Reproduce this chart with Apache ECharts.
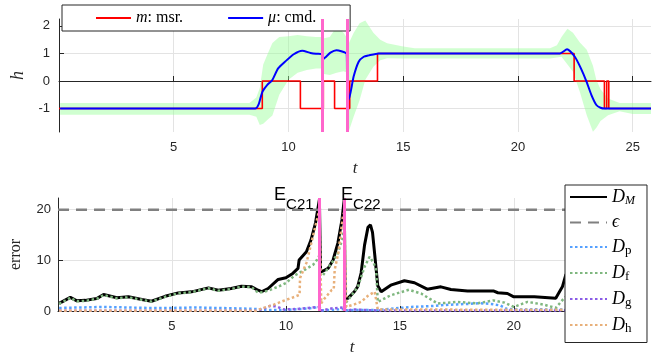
<!DOCTYPE html>
<html>
<head>
<meta charset="utf-8">
<script src="https://cdn.jsdelivr.net/npm/echarts@6/dist/echarts.min.js"></script>
<style>
  html, body { margin: 0; padding: 0; background: #fff; }
  #chart { width: 665px; height: 358px; }
</style>
</head>
<body>
<div id="chart"></div>
<script>
// ===== top panel: h vs t =====
// measured state m (step function, value holds until next time)
const msrT = [0, 8.86, 10.52, 11.52, 12.01, 12.67, 13.88, 22.45, 23.77, 23.87, 23.96, 25.8]
const msrV = [-1, 0, -1, 0, -1, 0, 1, 0, -1, 0, -1, -1]

// commanded mu
const cmdT = [0.05, 8.55, 8.7, 8.86, 9.07, 9.29, 9.55, 9.85, 10.23, 10.6, 10.96, 11.2, 11.46, 11.48, 11.6, 11.83, 12.09, 12.3, 12.54, 12.56, 12.62, 12.84, 13.06, 13.28, 13.5, 13.93, 21.83, 22.14, 22.48, 22.75, 22.99, 23.2, 23.42, 23.6, 23.78, 25.8]
const cmdV = [-1, -1, -0.85, -0.4, -0.15, 0.03, 0.46, 0.7, 0.97, 1.1, 1.02, 0.99, 0.98, 0.78, 0.85, 1.03, 1.12, 1.08, 0.98, -0.6, -0.69, 0.16, 0.7, 0.88, 0.93, 1.0, 1.0, 1.15, 0.88, 0.45, -0.02, -0.5, -0.87, -0.97, -1.0, -1.0]

// green uncertainty band around mu
const bandT = [0.05, 8.3, 8.6, 8.75, 8.9, 9.1, 9.3, 9.6, 10.0, 10.4, 10.8, 11.2, 11.47, 11.55, 11.8, 12.1, 12.4, 12.56, 12.62, 12.84, 13.1, 13.35, 13.7, 14.0, 14.3, 15.0, 15.5, 21.4, 21.7, 21.9, 22.16, 22.4, 22.7, 23.0, 23.27, 23.42, 23.6, 23.93, 24.43, 25.0, 25.8]
const bandLo = [-1.22, -1.22, -1.3, -1.6, -1.55, -1.4, -1.25, -0.5, 0.05, 0.3, 0.4, 0.45, 0.45, 0.25, 0.22, 0.3, 0.35, 0.3, -1.85, -1.3, -0.7, 0.05, 0.52, 0.75, 0.83, 0.82, 0.82, 0.82, 0.85, 0.88, 0.6, 0.34, -0.4, -1.24, -1.84, -1.7, -1.45, -1.24, -1.1, -1.2, -1.2]
const bandHi = [-0.8, -0.8, -0.6, -0.25, 0.6, 1.0, 1.38, 1.6, 1.62, 1.67, 1.62, 1.6, 1.6, 1.55, 1.6, 1.97, 1.75, 1.55, 1.35, 1.74, 2.1, 2.2, 1.75, 1.5, 1.37, 1.25, 1.19, 1.19, 1.3, 1.6, 1.9, 1.75, 1.4, 1.13, 0.55, 0.04, -0.3, -0.63, -0.8, -0.8, -0.8]

// event times (pink lines), same in both panels
const eventT = [11.47, 12.55]

// ===== bottom panel: error vs t =====
const dmT = [0.05, 0.54, 0.83, 1.2, 1.7, 2.0, 2.58, 3.09, 3.68, 4.1, 4.7, 5.28, 5.86, 6.6, 7.03, 7.6, 8.05, 8.5, 8.78, 8.93, 9.22, 9.66, 10.0, 10.3, 10.53, 10.58, 10.9, 11.1, 11.3, 11.47, 11.52, 11.63, 11.85, 12.07, 12.28, 12.46, 12.56, 12.6, 12.72, 13.0, 13.15, 13.3, 13.45, 13.6, 13.71, 13.8, 13.9, 14.03, 14.18, 14.6, 15.2, 15.64, 16.2, 16.8, 17.24, 17.97, 19.1, 19.3, 19.72, 20.0, 20.9, 21.84, 22.13, 22.28, 22.6, 23.0, 23.5, 24.0, 25.0, 25.8]
const dmV = [1.5, 2.7, 2.0, 2.1, 2.45, 3.25, 2.6, 2.8, 2.26, 1.93, 2.9, 3.57, 3.78, 4.57, 4.1, 4.44, 4.9, 4.77, 4.1, 3.8, 4.44, 6.23, 6.56, 7.42, 8.4, 10.07, 11.7, 14.0, 17.4, 22.0, 7.75, 7.9, 8.4, 10.07, 13.4, 18.0, 22.0, 2.5, 2.5, 3.8, 4.8, 7.5, 13.0, 16.5, 17.0, 15.5, 11.0, 5.0, 3.8, 5.1, 5.97, 5.57, 4.3, 4.77, 4.24, 3.97, 3.97, 3.6, 3.45, 2.8, 2.8, 2.5, 4.77, 7.1, 9.0, 8.0, 5.0, 3.0, 2.5, 2.5]

const dfT = [0.05, 0.54, 0.83, 1.2, 1.7, 2.0, 2.58, 3.09, 3.68, 4.1, 4.7, 5.28, 5.86, 6.6, 7.03, 7.6, 8.05, 8.5, 8.78, 8.93, 9.22, 9.66, 10.0, 10.38, 10.82, 11.19, 11.35, 11.47, 11.52, 11.63, 12.0, 12.28, 12.46, 12.56, 12.6, 12.72, 13.16, 13.45, 13.67, 13.85, 13.96, 14.03, 14.6, 15.4, 15.93, 16.66, 17.0, 17.5, 18.4, 19.1, 19.6, 20.0, 20.6, 21.3, 21.84, 22.2, 22.6, 23.0, 24.0, 25.8]
const dfV = [1.4, 2.6, 1.9, 2.0, 2.4, 3.15, 2.5, 2.7, 2.2, 1.85, 2.8, 3.5, 3.7, 4.5, 4.0, 4.35, 4.8, 4.7, 3.6, 3.7, 4.0, 4.8, 5.5, 7.0, 8.1, 9.1, 10.0, 11.0, 7.0, 7.1, 9.4, 11.4, 14.0, 16.5, 1.5, 2.1, 4.8, 8.7, 10.7, 9.5, 8.1, 1.8, 3.1, 4.2, 3.45, 1.47, 1.6, 1.8, 1.5, 2.1, 1.65, 0.8, 1.8, 1.27, 0.6, 2.5, 4.0, 3.0, 1.5, 1.2]

const dpT = [0.05, 1.0, 2.0, 3.0, 4.0, 5.0, 6.0, 7.0, 8.0, 8.7, 9.0, 10.0, 11.0, 11.47, 11.55, 12.0, 12.56, 12.65, 13.0, 14.0, 14.5, 15.0, 15.5, 16.0, 16.5, 17.0, 17.5, 18.0, 18.5, 19.0, 19.4, 19.7, 20.2, 20.5, 21.0, 21.5, 22.0, 23.0, 25.8]
const dpV = [0.6, 0.7, 0.8, 0.7, 0.6, 0.6, 0.7, 0.6, 0.5, 0.4, 0.2, 0.2, 0.5, 0.8, 0.1, 0.2, 0.4, 0.1, 0.2, 0.2, 0.4, 0.6, 0.8, 0.9, 1.0, 1.2, 1.3, 1.4, 1.55, 1.4, 1.1, 0.4, 0.3, 0.3, 0.35, 0.3, 0.3, 0.3, 0.3]

const dgT = [0.05, 8.7, 9.0, 9.3, 9.6, 9.9, 10.5, 11.0, 11.47, 11.55, 12.0, 12.5, 12.65, 13.0, 14.0, 25.8]
const dgV = [0.05, 0.05, 0.4, 1.0, 0.9, 0.3, 0.4, 0.6, 0.8, 0.1, 0.5, 0.7, 0.1, 0.3, 0.1, 0.1]

const dhT = [0.05, 8.7, 8.93, 9.5, 9.95, 10.38, 10.6, 10.62, 10.9, 11.04, 11.33, 11.47, 11.55, 11.63, 12.0, 12.1, 12.14, 12.3, 12.5, 12.56, 12.65, 12.72, 13.0, 13.3, 13.6, 13.9, 14.03, 25.8]
const dhV = [0.05, 0.05, 0.5, 1.3, 2.1, 2.8, 3.2, 6.5, 9.5, 12.0, 17.4, 20.0, 1.5, 2.1, 4.1, 4.3, 8.1, 11.5, 18.7, 19.5, 0.8, 1.0, 1.3, 1.8, 3.0, 3.8, 0.3, 0.2]

const epsLevel = 20
const eventNames = ['C21', 'C22']
const eventLabelT = [9.46, 12.4]

// ===== chart =====
const xy = (xs, ys) => xs.map((x, i) => [x, ys[i]])
const sans = '"Liberation Sans", Arial, sans-serif'
const serif = '"Liberation Serif", "DejaVu Serif", serif'
const ink = '#262626'
const pink = '#ff66cc'

const axisBase = {
  axisLine: { show: true, lineStyle: { color: ink, width: 1 } },
  axisTick: { show: true, inside: true, length: 5, lineStyle: { color: ink } },
  axisLabel: { color: ink, fontFamily: sans, fontSize: 13 },
  splitLine: { show: true, showMinLine: false, showMaxLine: false, lineStyle: { color: '#e3e3e3', width: 1 } }
}

const xAxisFor = (gridIndex) => ({
  ...axisBase,
  gridIndex, type: 'value', min: 0, max: 25.8, interval: 5,
  axisLabel: { ...axisBase.axisLabel, margin: 9, showMaxLabel: false, formatter: v => (v === 0 ? '' : v) },
  name: 't', nameLocation: 'middle', nameGap: 28,
  nameTextStyle: { fontFamily: serif, fontStyle: 'italic', fontSize: 17, color: ink }
})

const dotted = (name, t, v, color) => ({
  name, type: 'line', xAxisIndex: 1, yAxisIndex: 1, data: xy(t, v),
  symbol: 'none', lineStyle: { color, width: 2.5, type: [2.5, 2.5] }, itemStyle: { color }
})

const pinkLines = {
  silent: true, symbol: ['none', 'none'], label: { show: false },
  lineStyle: { color: pink, width: 3, type: 'solid' },
  data: eventT.map(t => ({ xAxis: t }))
}

const legendNames = {
  msr: '{i|m}{r|: msr.}',
  cmd: '{i|μ}{r|: cmd.}',
  D_M: '{d|D}{sm|M}',
  eps: '{e|ϵ}',
  D_p: '{d|D}{sr|p}',
  D_f: '{d|D}{sr|f}',
  D_g: '{d|D}{sr|g}',
  D_h: '{d|D}{sr|h}'
}

const chart = echarts.init(document.getElementById('chart'))

const option = {
  animation: false,
  backgroundColor: '#fff',
  grid: [
    { left: 59, top: 19, width: 592, height: 113 },
    { left: 57, top: 198, width: 589, height: 113 }
  ],
  xAxis: [xAxisFor(0), xAxisFor(1)],
  yAxis: [
    {
      ...axisBase, gridIndex: 0, type: 'value', min: -1.85, max: 2.25, splitNumber: 4,
      axisLabel: { ...axisBase.axisLabel, margin: 9, showMinLabel: false, showMaxLabel: false },
      name: 'h', nameLocation: 'middle', nameGap: 28, nameRotate: 90,
      nameTextStyle: { fontFamily: serif, fontStyle: 'italic', fontSize: 18, color: ink }
    },
    {
      ...axisBase, gridIndex: 1, type: 'value', min: 0, max: 22.3, interval: 10,
      axisLabel: { ...axisBase.axisLabel, margin: 7, showMaxLabel: false },
      name: 'error', nameLocation: 'middle', nameGap: 34, nameRotate: 90,
      nameTextStyle: { fontFamily: serif, fontSize: 16, color: ink }
    }
  ],
  legend: [
    {
      data: ['msr', 'cmd'], orient: 'horizontal', left: 62, top: 5,
      padding: [5, 34, 5, 33], itemGap: 44, itemWidth: 35, itemHeight: 12,
      itemStyle: { opacity: 0 },
      backgroundColor: '#fff', borderColor: ink, borderWidth: 1, borderRadius: 0,
      selectedMode: false,
      formatter: n => legendNames[n],
      textStyle: {
        color: '#000',
        rich: {
          i: { fontFamily: serif, fontStyle: 'italic', fontSize: 16 },
          r: { fontFamily: serif, fontSize: 16 }
        }
      }
    },
    {
      data: ['D_M', 'eps', 'D_p', 'D_f', 'D_g', 'D_h'], orient: 'vertical', left: 565, top: 185,
      padding: [3, 12, 7, 4], itemGap: 6.5, itemWidth: 37, itemHeight: 14,
      itemStyle: { opacity: 0 },
      backgroundColor: '#fff', borderColor: ink, borderWidth: 1, borderRadius: 0,
      selectedMode: false,
      formatter: n => legendNames[n],
      textStyle: {
        color: '#000',
        rich: {
          d: { fontFamily: serif, fontStyle: 'italic', fontSize: 18 },
          e: { fontFamily: serif, fontStyle: 'italic', fontSize: 18 },
          sm: { fontFamily: serif, fontStyle: 'italic', fontSize: 12, padding: [8, 0, 0, 0] },
          sr: { fontFamily: serif, fontSize: 13, padding: [8, 0, 0, 0] }
        }
      }
    }
  ],
  series: [
    // uncertainty band drawn as one polygon (upper edge, then lower edge back)
    {
      name: 'band', type: 'custom', xAxisIndex: 0, yAxisIndex: 0, silent: true, clip: true,
      data: bandT.map((t, i) => [t, bandLo[i], bandHi[i]]),
      encode: { x: 0, y: [1, 2] },
      renderItem: (params, api) => {
        if (params.dataIndex !== 0) return null
        const top = bandT.map((t, i) => api.coord([t, bandHi[i]]))
        const bot = bandT.map((t, i) => api.coord([t, bandLo[i]])).reverse()
        return {
          type: 'polygon', shape: { points: top.concat(bot) },
          style: { fill: 'rgba(150,255,150,0.45)', stroke: null }
        }
      }
    },
    {
      name: 'msr', type: 'line', xAxisIndex: 0, yAxisIndex: 0, data: xy(msrT, msrV),
      step: 'end', symbol: 'none', lineStyle: { color: '#ff0000', width: 1.6 }, itemStyle: { color: '#ff0000' }
    },
    {
      name: 'cmd', type: 'line', xAxisIndex: 0, yAxisIndex: 0, data: xy(cmdT, cmdV),
      smooth: 0.2, symbol: 'none', lineStyle: { color: '#0000ff', width: 2 }, itemStyle: { color: '#0000ff' },
      markLine: pinkLines
    },
    {
      name: 'D_M', type: 'line', xAxisIndex: 1, yAxisIndex: 1, data: xy(dmT, dmV),
      symbol: 'none', lineStyle: { color: '#000', width: 3 }, itemStyle: { color: '#000' }
    },
    {
      name: 'eps', type: 'line', xAxisIndex: 1, yAxisIndex: 1, data: [[0, epsLevel], [25.8, epsLevel]],
      symbol: 'none', lineStyle: { color: '#808080', width: 2.5, type: [11, 7] }, itemStyle: { color: '#808080' }
    },
    dotted('D_p', dpT, dpV, '#55a0ff'),
    dotted('D_f', dfT, dfV, '#7fb77f'),
    dotted('D_g', dgT, dgV, '#8a5ce6'),
    {
      ...dotted('D_h', dhT, dhV, '#e8b07a'),
      markLine: pinkLines,
      markPoint: {
        symbol: 'rect', symbolSize: 1, itemStyle: { color: 'rgba(0,0,0,0)' },
        label: {
          show: true, position: 'right', distance: 0, color: '#000', offset: [0, -3],
          formatter: p => '{e|E}{c|' + p.name + '}',
          rich: {
            e: { fontFamily: sans, fontSize: 18, color: '#000' },
            c: { fontFamily: sans, fontSize: 15, color: '#000', padding: [20, 0, 0, 0] }
          }
        },
        data: eventNames.map((n, i) => ({ name: n, coord: [eventLabelT[i], 22.3] }))
      }
    }
  ]
}

chart.setOption(option)
</script>
</body>
</html>
